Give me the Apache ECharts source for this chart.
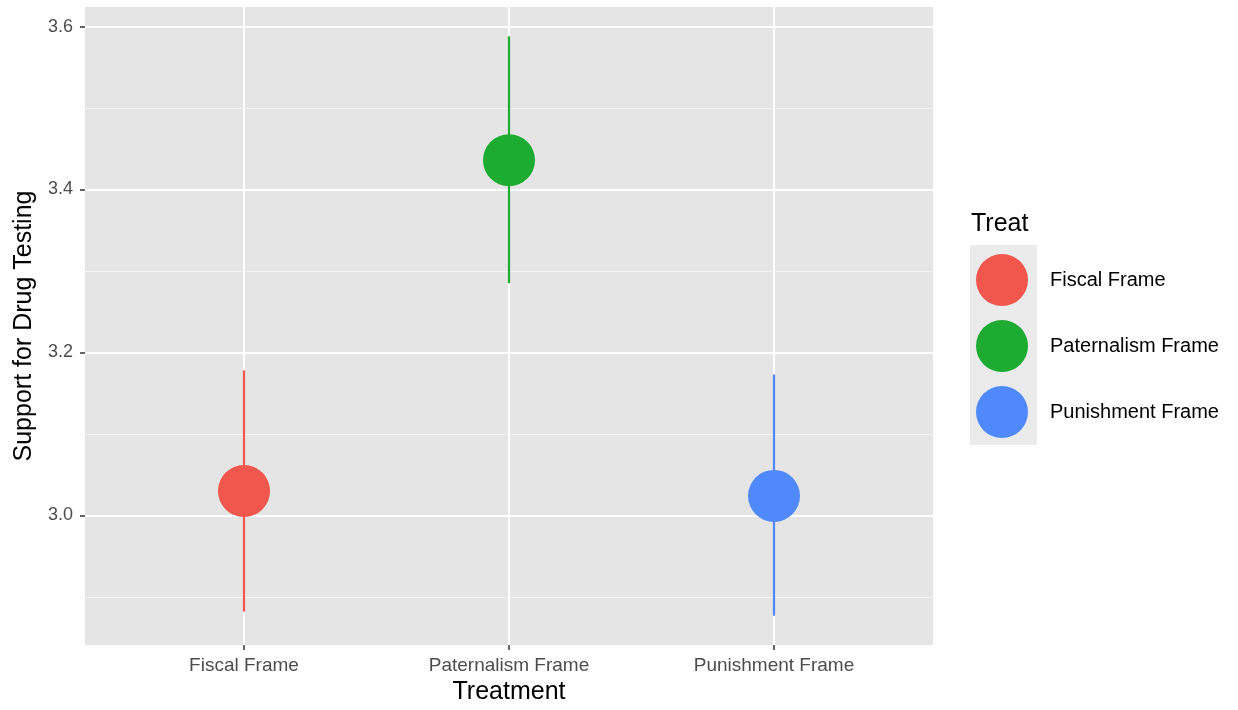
<!DOCTYPE html>
<html><head><meta charset="utf-8">
<script src="https://cdn.jsdelivr.net/npm/echarts@6/dist/echarts.min.js"></script>
<style>html,body{margin:0;padding:0;background:#fff}#c{width:1238px;height:710px}</style>
</head><body><div id="c"></div>
<script>
const categories = ['Fiscal Frame', 'Paternalism Frame', 'Punishment Frame'];
const means = [3.030, 3.436, 3.024];
const lower = [2.882, 3.285, 2.877];
const upper = [3.178, 3.588, 3.173];
const colors = ['#F2574E', '#1EAB32', '#4F89FC'];
const yTicks = [3.0, 3.2, 3.4, 3.6];
const yMinor = [2.9, 3.1, 3.3, 3.5];
const xPos = [1, 2, 3];

const chart = echarts.init(document.getElementById('c'));
const font = 'Liberation Sans, Arial, sans-serif';
const series = [];
series.push({
  type: 'custom', name: 'errorbars', z: 2, silent: true,
  data: categories.map((c, i) => [xPos[i], lower[i], upper[i], i]),
  renderItem: function (params, api) {
    const x = api.value(0), lo = api.value(1), hi = api.value(2), idx = api.value(3);
    const p1 = api.coord([x, lo]), p2 = api.coord([x, hi]);
    return { type: 'line', shape: { x1: p1[0], y1: p1[1], x2: p2[0], y2: p2[1] },
      style: { stroke: colors[idx], lineWidth: 2.2 } };
  },
  markLine: {
    silent: true, symbol: 'none', label: { show: false }, z: 0,
    lineStyle: { color: '#f3f3f3', width: 1, type: 'solid' },
    data: yMinor.map(v => ({ yAxis: v }))
  }
});
categories.forEach((c, i) => {
  series.push({
    type: 'scatter', name: c, z: 5, symbol: 'circle', symbolSize: 52,
    itemStyle: { color: colors[i], opacity: 1 },
    data: [[xPos[i], means[i]]]
  });
});

chart.setOption({
  backgroundColor: '#ffffff',
  animation: false,
  grid: { left: 85, right: 305, top: 7, bottom: 65, show: true, backgroundColor: '#e5e5e5', borderWidth: 0 },
  xAxis: {
    type: 'value', min: 0.4, max: 3.6,
    name: 'Treatment', nameLocation: 'middle', nameGap: 35,
    nameTextStyle: { fontFamily: font, fontSize: 25, color: '#000' },
    axisLine: { show: false },
    axisTick: { show: true, customValues: xPos, length: 5, lineStyle: { color: '#333', width: 1.5 } },
    axisLabel: { customValues: xPos, formatter: v => categories[Math.round(v) - 1] || '', fontFamily: font, fontSize: 19, color: '#4d4d4d', margin: 11 },
    splitLine: { show: true, lineStyle: { color: '#ffffff', width: 2 } }
  },
  yAxis: {
    type: 'value', min: 2.841, max: 3.624,
    name: 'Support for Drug Testing', nameLocation: 'middle', nameGap: 48, nameRotate: 90,
    nameTextStyle: { fontFamily: font, fontSize: 25, color: '#000' },
    axisLine: { show: false },
    axisTick: { show: true, customValues: yTicks, length: 5, lineStyle: { color: '#333', width: 1.5 } },
    axisLabel: { customValues: yTicks, formatter: v => v.toFixed(1), fontFamily: font, fontSize: 18, color: '#4d4d4d', margin: 12 },
    splitLine: { show: true, lineStyle: { color: '#ffffff', width: 2 } }
  },
  legend: {
    orient: 'vertical', left: 971, top: 249,
    itemWidth: 66, itemHeight: 52, itemGap: 14,
    icon: 'circle',
    data: categories,
    textStyle: { fontFamily: font, fontSize: 20, color: '#000', padding: [0, 0, 0, 10] }
  },
  graphic: [
    { type: 'rect', left: 970, top: 245, shape: { width: 67, height: 200 }, style: { fill: '#ebebeb' }, z: -1 },
    { type: 'text', left: 971, top: 212, style: { text: 'Treat', font: '25px ' + font, fill: '#000' } }
  ],
  series: series
});
</script></body></html>
